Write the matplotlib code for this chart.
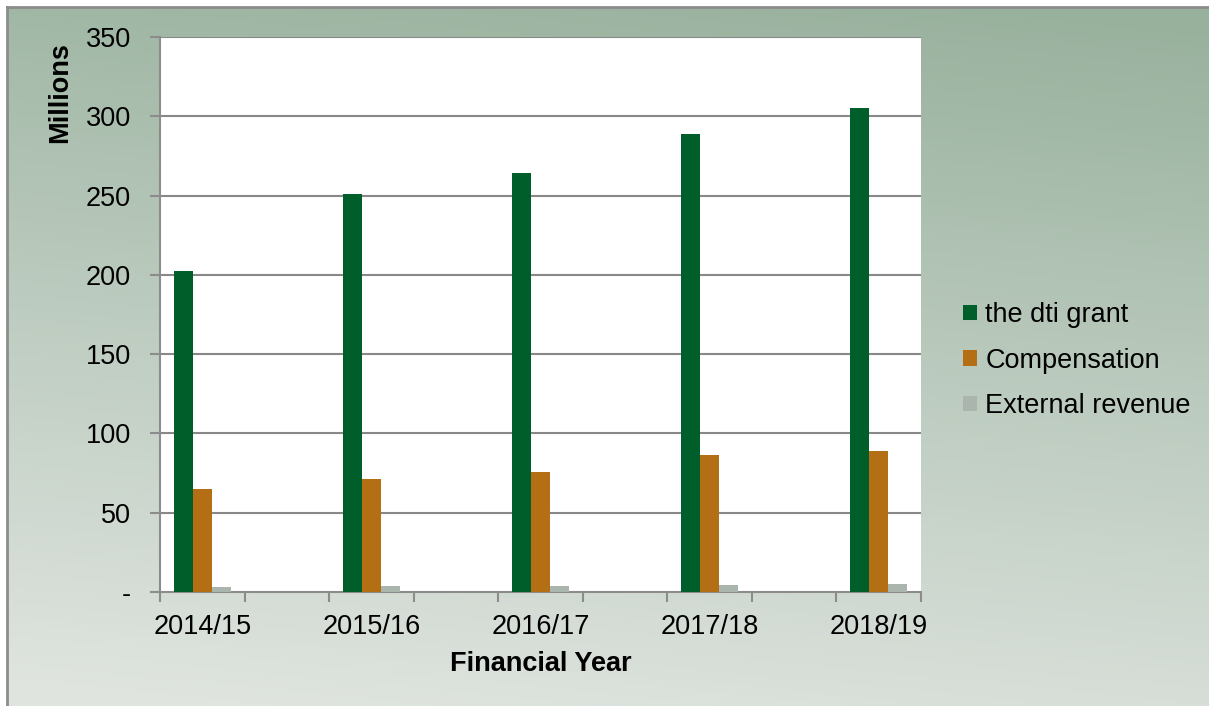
import numpy as np
import matplotlib
matplotlib.use("Agg")
import matplotlib.pyplot as plt
from matplotlib.colors import LinearSegmentedColormap

plt.rcParams['font.family'] = ['Liberation Sans', 'DejaVu Sans']

years = ["2014/15", "2015/16", "2016/17", "2017/18", "2018/19"]
dti_grant = [202.5, 251, 264, 289, 305]
compensation = [65, 71.3, 75.5, 86.3, 89]
external_revenue = [3.2, 3.8, 4.0, 4.4, 4.9]

series = [("the dti grant", dti_grant, "#005e2b"),
          ("Compensation", compensation, "#b46f14"),
          ("External revenue", external_revenue, "#a9b5ad")]

W, H = 1209, 706
fig = plt.figure(figsize=(W / 100, H / 100), dpi=100, facecolor="white")

# background panel with gradient
bg = fig.add_axes([7 / W, 0, 1 - 7 / W, 1 - 7 / H])
yy, xx = np.mgrid[0:1:200j, 0:1:200j]
t = np.clip(0.9 * yy + 0.15 * (1 - xx) - 0.02, 0, 1)
cmap = LinearSegmentedColormap.from_list("bg", ["#98b19d", "#bccbbf", "#dfe4df"])
bg.imshow(t, cmap=cmap, aspect="auto", extent=[0, 1, 0, 1], vmin=0, vmax=1)
bg.set_xticks([])
bg.set_yticks([])
for s in ["right", "bottom"]:
    bg.spines[s].set_visible(False)
for s in ["top", "left"]:
    bg.spines[s].set_color("#8c8c8c")
    bg.spines[s].set_linewidth(2)

ax = fig.add_axes([160 / W, 1 - 592 / H, (921 - 160) / W, (592 - 37) / H])
ax.set_facecolor("white")

x = np.arange(len(years)) * 2
w = 0.225
for i, (name, vals, col) in enumerate(series):
    ax.bar(x + (i - 1) * w, vals, width=w, color=col, label=name, zorder=3)

fs = 19.5
ax.set_xlim(-0.5, 8.5)
ax.set_ylim(0, 350)
yt = np.arange(0, 351, 50)
ax.set_yticks(yt)
ax.set_yticklabels(["-"] + [str(v) for v in yt[1:]])
ax.set_xticks(x)
ax.set_xticklabels(years)
ax.set_xticks(np.arange(-0.5, 9, 1), minor=True)
ax.tick_params(axis="x", which="major", length=0, pad=16, labelsize=fs)
ax.tick_params(axis="x", which="minor", length=7, width=1.5, color="#8c8c8c")
ax.tick_params(axis="y", length=7, width=1.5, color="#8c8c8c", pad=14, labelsize=fs)

for v in yt[1:]:
    ax.axhline(v, color="#888888", lw=1.5, zorder=1)

for s in ["top", "right"]:
    ax.spines[s].set_visible(False)
for s in ["left", "bottom"]:
    ax.spines[s].set_color("#8c8c8c")
    ax.spines[s].set_linewidth(1.5)

ax.set_xlabel("Financial Year", fontsize=fs, fontweight="bold")
ax.xaxis.set_label_coords((541 - 160) / 761, -(651 - 592) / 555)
ax.set_ylabel("Millions", fontsize=fs, fontweight="bold")
ax.yaxis.set_label_coords(-(160 - 73) / 761, (592 - 93) / 555)

leg = ax.legend(loc="center left", bbox_to_anchor=(1.041, 0.417), frameon=False,
                fontsize=fs, handlelength=0.52, handleheight=0.52, handletextpad=0.3,
                labelspacing=0.72, borderaxespad=0)

fig.savefig("out.png", dpi=100)
